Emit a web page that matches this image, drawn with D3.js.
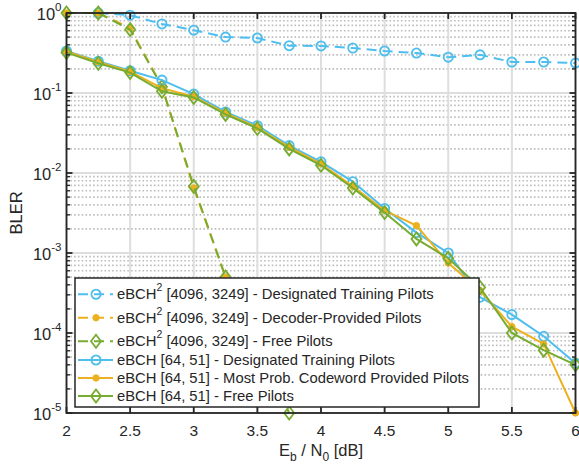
<!DOCTYPE html>
<html>
<head>
<meta charset="utf-8">
<script src="https://cdn.jsdelivr.net/npm/d3@7/dist/d3.min.js"></script>
<style>
  body { margin: 0; background: #fff; }
  text { font-family: "Liberation Sans", Arial, Helvetica, sans-serif; fill: #262626; }
</style>
</head>
<body>
<div id="chart"></div>
<script>

///////////////////////////////////////////////////////////////////////////
//////////////////////////////// The data /////////////////////////////////
///////////////////////////////////////////////////////////////////////////

//Eb/N0 in dB
var snrDb = [2, 2.25, 2.5, 2.75, 3, 3.25, 3.5, 3.75, 4, 4.25, 4.5, 4.75, 5, 5.25, 5.5, 5.75, 6]

//eBCH^2 [4096, 3249]
var sqDesignated = [null, 1, 0.94, 0.73, 0.61, 0.50, 0.487, 0.39, 0.387, 0.365, 0.335, 0.316, 0.28, 0.30, 0.244, 0.244, 0.237]
var sqDecoder    = [1, 1, 0.65, 0.12, 0.0065, 5e-4, null, null, null, null, null, null, null, null, null, null, null]
var sqFree       = [1, 1, 0.62, 0.12, 0.0068, 5e-4, null, 1e-5, null, null, null, null, null, null, null, null, null]

//eBCH [64, 51]
var bchDesignated = [0.335, 0.25, 0.19, 0.145, 0.097, 0.058, 0.039, 0.022, 0.0138, 0.0078, 0.0036, 0.0018, 0.001, 2.8e-4, 1.7e-4, 9.1e-5, 4.2e-5]
var bchMostProb   = [0.33, 0.245, 0.185, 0.115, 0.09, 0.056, 0.037, 0.021, 0.013, 0.0068, 0.0034, 0.0022, 7.5e-4, 3.4e-4, 1.2e-4, 7.3e-5, 1e-5]
var bchFree       = [0.32, 0.235, 0.18, 0.105, 0.088, 0.054, 0.036, 0.020, 0.0125, 0.0065, 0.0032, 0.0015, 8.6e-4, 3.7e-4, 1e-4, 6.1e-5, 4e-5]

var xTicks = [2, 2.5, 3, 3.5, 4, 4.5, 5, 5.5, 6]
var yDecades = [0, -1, -2, -3, -4, -5]

var blue = "#4DBEEE", orange = "#EDB120", green = "#77AC30"

var series = [
	{ values: sqDesignated,  color: blue,   dash: true,  marker: "circle",  sup: true,  name: ["eBCH", "2", " [4096, 3249] - Designated Training Pilots"] },
	{ values: sqDecoder,     color: orange, dash: true,  marker: "dot",     sup: true,  name: ["eBCH", "2", " [4096, 3249] - Decoder-Provided Pilots"] },
	{ values: sqFree,        color: green,  dash: true,  marker: "diamond", sup: true,  name: ["eBCH", "2", " [4096, 3249] - Free Pilots"] },
	{ values: bchDesignated, color: blue,   dash: false, marker: "circle",  sup: false, name: ["eBCH [64, 51] - Designated Training Pilots"] },
	{ values: bchMostProb,   color: orange, dash: false, marker: "dot",     sup: false, name: ["eBCH [64, 51] - Most Prob. Codeword Provided Pilots"] },
	{ values: bchFree,       color: green,  dash: false, marker: "diamond", sup: false, name: ["eBCH [64, 51] - Free Pilots"] }
]

///////////////////////////////////////////////////////////////////////////
//////////////////////////// Set up the svg ///////////////////////////////
///////////////////////////////////////////////////////////////////////////

var width = 579, height = 464
var margin = { left: 66.5, right: 3.5, top: 13, bottom: 51 }
var axisColor = "#262626"

var svg = d3.select("#chart").append("svg")
	.attr("width", width)
	.attr("height", height)

var xScale = d3.scaleLinear()
	.domain([2, 6])
	.range([margin.left, width - margin.right])

var yScale = d3.scaleLog()
	.domain([1e-5, 1])
	.range([height - margin.bottom, margin.top])

var x0 = xScale.range()[0], x1 = xScale.range()[1]
var y0 = yScale.range()[1], y1 = yScale.range()[0]

//minor values 2..9 in every decade
var minorVals = []
yDecades.slice(1).forEach(function(e) {
	for (var k = 2; k <= 9; k++) minorVals.push(k * Math.pow(10, e))
})

///////////////////////////////////////////////////////////////////////////
//////////////////////////////// Grid /////////////////////////////////////
///////////////////////////////////////////////////////////////////////////

var grid = svg.append("g")

grid.selectAll(".minor")
	.data(minorVals)
	.enter().append("line")
	.attr("x1", x0).attr("x2", x1)
	.attr("y1", d => yScale(d)).attr("y2", d => yScale(d))
	.style("stroke", "#bdbdbd")
	.style("stroke-width", 1.6)
	.style("stroke-dasharray", "1.6,2.2")

grid.selectAll(".majorY")
	.data(yDecades)
	.enter().append("line")
	.attr("x1", x0).attr("x2", x1)
	.attr("y1", d => yScale(Math.pow(10, d))).attr("y2", d => yScale(Math.pow(10, d)))
	.style("stroke", "#dedede")
	.style("stroke-width", 2)

grid.selectAll(".majorX")
	.data(xTicks)
	.enter().append("line")
	.attr("x1", d => xScale(d)).attr("x2", d => xScale(d))
	.attr("y1", y0).attr("y2", y1)
	.style("stroke", "#dedede")
	.style("stroke-width", 2)

///////////////////////////////////////////////////////////////////////////
//////////////////////////////// Series ///////////////////////////////////
///////////////////////////////////////////////////////////////////////////

var line = d3.line()
	.x(d => xScale(d.x))
	.y(d => yScale(d.v))

function drawMarker(sel, type, color) {
	if (type === "circle") {
		sel.append("circle").attr("r", 4.6)
			.style("fill", "none").style("stroke", color).style("stroke-width", 1.8)
	} else if (type === "dot") {
		sel.append("circle").attr("r", 3.2)
			.style("fill", color).style("stroke", color).style("stroke-width", 1)
	} else {
		sel.append("path").attr("d", "M0,-6.5L5,0L0,6.5L-5,0Z")
			.style("fill", "none").style("stroke", color).style("stroke-width", 1.8)
	}
}

series.forEach(function(s) {
	var pts = snrDb.map((x, i) => ({ x: x, v: s.values[i] })).filter(d => d.v != null)
	var g = svg.append("g")

	g.append("path")
		.datum(pts)
		.attr("d", line)
		.style("fill", "none")
		.style("stroke", s.color)
		.style("stroke-width", 2)
		.style("stroke-dasharray", s.dash ? "10,6" : null)

	g.selectAll(".m")
		.data(pts)
		.enter().append("g")
		.attr("transform", d => "translate(" + xScale(d.x) + "," + yScale(d.v) + ")")
		.each(function() { drawMarker(d3.select(this), s.marker, s.color) })
})

///////////////////////////////////////////////////////////////////////////
//////////////////////////////// Axes /////////////////////////////////////
///////////////////////////////////////////////////////////////////////////

var axes = svg.append("g")

axes.append("rect")
	.attr("x", x0).attr("y", y0)
	.attr("width", x1 - x0).attr("height", y1 - y0)
	.style("fill", "none")
	.style("stroke", axisColor)
	.style("stroke-width", 1.8)

//x ticks, bottom and top, pointing inwards
xTicks.forEach(function(t) {
	axes.append("line").attr("x1", xScale(t)).attr("x2", xScale(t)).attr("y1", y1).attr("y2", y1 - 6)
		.style("stroke", axisColor).style("stroke-width", 1.8)
	axes.append("line").attr("x1", xScale(t)).attr("x2", xScale(t)).attr("y1", y0).attr("y2", y0 + 6)
		.style("stroke", axisColor).style("stroke-width", 1.8)
	axes.append("text")
		.attr("x", xScale(t)).attr("y", y1 + 23)
		.attr("text-anchor", "middle")
		.style("font-size", "15.5px")
		.text(t)
})

//y ticks, left and right
yDecades.forEach(function(e) {
	var y = yScale(Math.pow(10, e))
	axes.append("line").attr("x1", x0).attr("x2", x0 + 6).attr("y1", y).attr("y2", y)
		.style("stroke", axisColor).style("stroke-width", 1.8)
	axes.append("line").attr("x1", x1).attr("x2", x1 - 6).attr("y1", y).attr("y2", y)
		.style("stroke", axisColor).style("stroke-width", 1.8)
	var label = axes.append("text")
		.attr("x", x0 - 5).attr("y", y + 7)
		.attr("text-anchor", "end")
		.style("font-size", "16.5px")
	label.append("tspan").text("10")
	label.append("tspan").attr("dy", -9).style("font-size", "11.5px").text(e === 0 ? "0" : "-" + Math.abs(e))
})

minorVals.forEach(function(v) {
	var y = yScale(v)
	axes.append("line").attr("x1", x0).attr("x2", x0 + 3.5).attr("y1", y).attr("y2", y)
		.style("stroke", axisColor).style("stroke-width", 1.4)
	axes.append("line").attr("x1", x1).attr("x2", x1 - 3.5).attr("y1", y).attr("y2", y)
		.style("stroke", axisColor).style("stroke-width", 1.4)
})

//axis titles
axes.append("text")
	.attr("transform", "translate(" + 22 + "," + ((y0 + y1) / 2) + ") rotate(-90)")
	.attr("text-anchor", "middle")
	.style("font-size", "16.5px")
	.text("BLER")

var xLab = axes.append("text")
	.attr("x", (x0 + x1) / 2).attr("y", y1 + 43)
	.attr("text-anchor", "middle")
	.style("font-size", "16.5px")
xLab.append("tspan").text("E")
xLab.append("tspan").attr("dy", 5).style("font-size", "12px").text("b")
xLab.append("tspan").attr("dy", -5).text(" / N")
xLab.append("tspan").attr("dy", 5).style("font-size", "12px").text("0")
xLab.append("tspan").attr("dy", -5).text(" [dB]")

///////////////////////////////////////////////////////////////////////////
/////////////////////////////// Legend ////////////////////////////////////
///////////////////////////////////////////////////////////////////////////

var legX = 75, legY = 278, legW = 404
var rowH = series.map(s => s.sup ? 23.5 : 18)
var legH = 2.5 + d3.sum(rowH) + 2

var legend = svg.append("g")

legend.append("rect")
	.attr("x", legX).attr("y", legY)
	.attr("width", legW).attr("height", legH)
	.style("fill", "#fff")
	.style("stroke", axisColor)
	.style("stroke-width", 1.5)

var cy = legY + 2.5
series.forEach(function(s, i) {
	var yc = cy + rowH[i] / 2 + (s.sup ? 2 : 0)
	cy += rowH[i]

	legend.append("line")
		.attr("x1", legX + 3).attr("x2", legX + 38)
		.attr("y1", yc).attr("y2", yc)
		.style("stroke", s.color)
		.style("stroke-width", 2)
		.style("stroke-dasharray", s.dash ? "10,6" : null)

	legend.append("g")
		.attr("transform", "translate(" + (legX + 21) + "," + yc + ")")
		.call(drawMarker, s.marker, s.color)

	var t = legend.append("text")
		.attr("x", legX + 42).attr("y", yc + 5)
		.style("font-size", "14.8px")
	if (s.sup) {
		t.append("tspan").text(s.name[0])
		t.append("tspan").attr("dy", -8).style("font-size", "10.5px").text(s.name[1])
		t.append("tspan").attr("dy", 8).text(s.name[2])
	} else {
		t.text(s.name[0])
	}
})

</script>
</body>
</html>
